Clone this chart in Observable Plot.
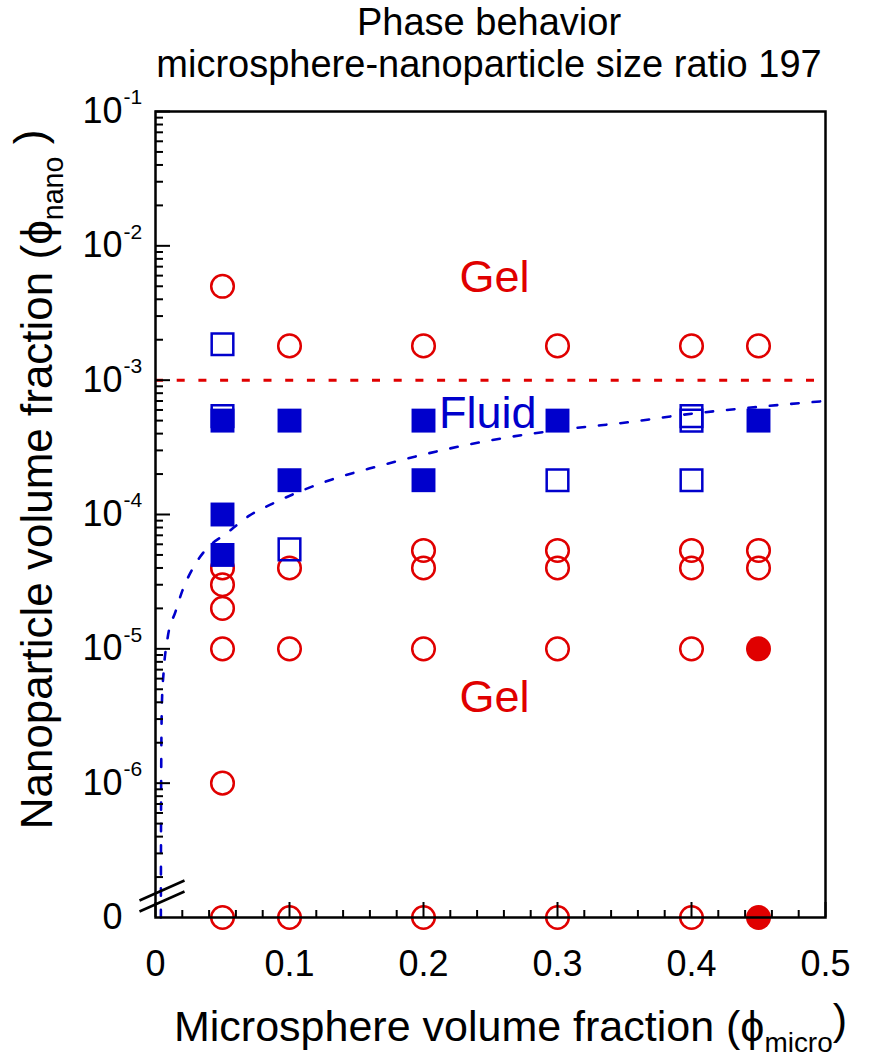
<!DOCTYPE html>
<html><head><meta charset="utf-8">
<script src="https://cdn.jsdelivr.net/npm/d3@7"></script>
<script src="https://cdn.jsdelivr.net/npm/@observablehq/plot@0.6"></script>
<style>
body{margin:0;background:#fff;font-family:"Liberation Sans",Arial,sans-serif;}
#title{position:relative;width:875px;height:90px;}
#title div{position:absolute;left:489px;transform:translateX(-50%);white-space:nowrap;font-size:38px;color:#000;line-height:1;}
#chart svg{display:block;overflow:visible;}
</style></head><body>
<div id="title"><div style="top:3px">Phase behavior</div><div style="top:45px">microsphere-nanoparticle size ratio 197</div></div>
<div id="chart"></div>
<script>
// value plotted at the broken "0" position of the log axis
const ZERO = 1e-7;

// Gel (red open circles)
const gelOpenX = [0.05,0.05,0.05,0.05,0.05,0.05,0.05, 0.1,0.1,0.1,0.1, 0.2,0.2,0.2,0.2,0.2, 0.3,0.3,0.3,0.3,0.3, 0.4,0.4,0.4,0.4,0.4, 0.45,0.45,0.45];
const gelOpenY = [5e-3,4e-5,3e-5,2e-5,1e-5,1e-6,0, 1.8e-3,4e-5,1e-5,0, 1.8e-3,5.4e-5,4e-5,1e-5,0, 1.8e-3,5.4e-5,4e-5,1e-5,0, 1.8e-3,5.4e-5,4e-5,1e-5,0, 1.8e-3,5.4e-5,4e-5];
// Gel (red filled circles)
const gelFilledX = [0.45, 0.45];
const gelFilledY = [1e-5, 0];
// Fluid (blue open squares)
const fluidOpenX = [0.05,0.05, 0.1, 0.3, 0.4,0.4,0.4];
const fluidOpenY = [1.85e-3,5.4e-4, 5.5e-5, 1.8e-4, 5.4e-4,5e-4,1.8e-4];
// Fluid (blue filled squares)
const fluidFilledX = [0.05,0.05,0.05, 0.1,0.1, 0.2,0.2, 0.3, 0.45];
const fluidFilledY = [5e-4,1e-4,5e-5, 5e-4,1.8e-4, 5e-4,1.8e-4, 5e-4, 5e-4];
// fluid boundary (blue dashed curve)
const boundaryX = [0.004,0.0042,0.0048,0.006,0.009,0.015,0.02,0.028,0.037,0.0535,0.07,0.087,0.13,0.167,0.197,0.23,0.262,0.311,0.357,0.389,0.437,0.485,0.5];
const boundaryY = [1e-7,1e-6,4e-6,6.6e-6,1.2e-5,1.9e-5,2.7e-5,4e-5,5.4e-5,7.3e-5,9.8e-5,1.2e-4,1.8e-4,2.3e-4,2.75e-4,3.26e-4,3.74e-4,4.37e-4,4.92e-4,5.45e-4,6.15e-4,6.8e-4,7e-4];
// upper gel boundary (red dashed line)
const upperBoundary = [1e-3];

// region labels
const regionText = ["Gel", "Fluid", "Gel"];
const regionX = [0.253, 0.248, 0.253];
const regionY = [5.8e-3, 5.6e-4, 4.3e-6];
const regionColor = ["red", "blue", "red"];

// ticks
const xTickValues = [0, 0.1, 0.2, 0.3, 0.4, 0.5];
const xTickLabels = ["0", "0.1", "0.2", "0.3", "0.4", "0.5"];
const yDecadeValues = [1e-6, 1e-5, 1e-4, 1e-3, 1e-2, 1e-1];
const yExponentLabels = ["-6", "-5", "-4", "-3", "-2", "-1"];
const yZeroLabel = ["0"];

const xMinor = d3.range(0, 0.5001, 0.02).filter(v => Math.abs(v*10 - Math.round(v*10)) > 1e-6);
const yMinor = [];
for (let e = -7; e <= -2; e++) for (let m = 2; m <= 9; m++) yMinor.push(m * Math.pow(10, e));

const RED = "#e00000", BLUE = "#0000cc";
const colorOf = c => c === "red" ? RED : BLUE;
const pts = (xs, ys) => xs.map((x, i) => ({x, y: ys[i] === 0 ? ZERO : ys[i]}));

const breakSymbol = {
  draw(ctx) {
    ctx.moveTo(-16, -17); ctx.lineTo(29, -37);
    ctx.moveTo(-16, -6); ctx.lineTo(29, -26);
  }
};

const fontFamily = "Liberation Sans, Arial, sans-serif";

const svg = Plot.plot({
  width: 875, height: 968,
  marginTop: 21, marginLeft: 155, marginRight: 50, marginBottom: 141,
  x: {domain: [0, 0.5]},
  y: {type: "log", domain: [ZERO, 1e-1]},
  style: {fontFamily, background: "white", color: "black", overflow: "visible"},
  marks: [
    Plot.ruleY(upperBoundary, {stroke: RED, strokeWidth: 3, strokeDasharray: "8,13.7"}),
    Plot.line(pts(boundaryX, boundaryY), {x: "x", y: "y", stroke: BLUE, strokeWidth: 2.6, strokeDasharray: "7.5,14", curve: "monotone-x"}),
    Plot.dot(pts(gelOpenX, gelOpenY), {x: "x", y: "y", r: 11.3, stroke: RED, strokeWidth: 2.5, fill: "none"}),
    Plot.dot(pts(gelFilledX, gelFilledY), {x: "x", y: "y", r: 12.5, fill: RED, stroke: "none"}),
    Plot.dot(pts(fluidOpenX, fluidOpenY), {x: "x", y: "y", symbol: "square", r: 12.2, stroke: BLUE, strokeWidth: 2.5, fill: "none"}),
    Plot.dot(pts(fluidFilledX, fluidFilledY), {x: "x", y: "y", symbol: "square", r: 13.5, fill: BLUE, stroke: "none"}),
    Plot.text(regionText, {x: (d, i) => regionX[i], y: (d, i) => regionY[i], text: d => d, fill: (d, i) => colorOf(regionColor[i]), fontSize: 45, textAnchor: "middle", lineAnchor: "middle"}),
    Plot.frame({stroke: "black", strokeWidth: 2.5}),
    Plot.axisX({ticks: xTickValues, tickSize: -15, tickFormat: () => "", label: null, strokeWidth: 2}),
    Plot.axisX({ticks: xMinor, tickSize: -7, tickFormat: () => "", label: null, strokeWidth: 2}),
    Plot.axisY({ticks: yDecadeValues, tickSize: -15, tickFormat: () => "", label: null, strokeWidth: 2}),
    Plot.axisY({ticks: yMinor, tickSize: -8, tickFormat: () => "", label: null, strokeWidth: 2}),
    Plot.dot([{x: 0, y: ZERO}], {x: "x", y: "y", symbol: breakSymbol, stroke: "black", strokeWidth: 2.5, fill: "none"}),
    Plot.text(xTickValues, {x: d => d, frameAnchor: "bottom", dy: 58, text: (d, i) => xTickLabels[i], fontSize: 36, fill: "black"}),
    Plot.text(yDecadeValues, {y: d => d, frameAnchor: "left", textAnchor: "end", dx: -33, text: () => "10", fontSize: 36, fill: "black"}),
    Plot.text(yDecadeValues, {y: d => d, frameAnchor: "left", textAnchor: "start", dx: -32, dy: -14, text: (d, i) => yExponentLabels[i], fontSize: 21, fill: "black"}),
    Plot.text([ZERO], {y: d => d, frameAnchor: "left", textAnchor: "end", dx: -33, text: (d, i) => yZeroLabel[i], fontSize: 36, fill: "black"}),
    Plot.text(["Microsphere volume fraction (ϕ|micro|)"], {frameAnchor: "bottom", textAnchor: "middle", dx: 20, dy: 123, lineAnchor: "bottom", fontSize: 43, fill: "black", text: d => d}),
    Plot.text(["Nanoparticle volume fraction (ϕ|nano| )"], {frameAnchor: "left", textAnchor: "middle", dx: -104, dy: -35, rotate: -90, lineAnchor: "bottom", fontSize: 44, fill: "black", text: d => d})
  ]
});
document.getElementById("chart").appendChild(svg);

// render subscripts
d3.select(svg).selectAll("text").each(function() {
  const t = this.textContent;
  if (!t.includes("|")) return;
  const parts = t.split("|");
  const el = d3.select(this);
  el.text(null);
  el.append("tspan").text(parts[0]);
  el.append("tspan").attr("dy", "0.4em").attr("font-size", "0.65em").text(parts[1]);
  el.append("tspan").attr("dy", "-0.4em").text(parts[2]);
});
</script>
</body></html>
